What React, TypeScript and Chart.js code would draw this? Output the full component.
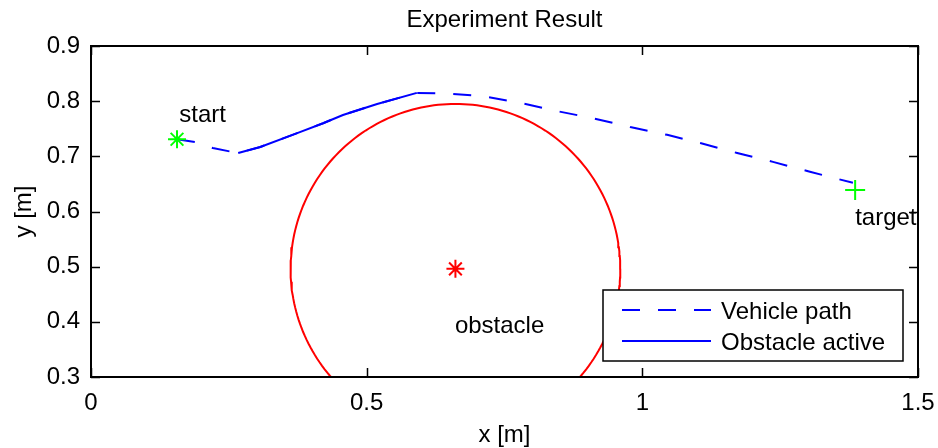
import React, { useEffect, useRef } from "react";
import { Chart, registerables } from "chart.js";

Chart.register(...registerables);

const chartTitle = "Experiment Result";
const xAxisTitle = "x [m]";
const yAxisTitle = "y [m]";
const xTickValues = [0, 0.5, 1, 1.5];
const yTickValues = [0.3, 0.4, 0.5, 0.6, 0.7, 0.8, 0.9];

const vehiclePathX = [0.156, 0.189, 0.221, 0.256, 0.267, 0.307, 0.374, 0.421, 0.457, 0.519, 0.591, 0.646, 0.711, 0.778, 0.845, 0.911, 0.978, 1.045, 1.105, 1.172, 1.237, 1.304, 1.382];
const vehiclePathY = [0.731, 0.726, 0.715, 0.708, 0.706, 0.717, 0.742, 0.76, 0.775, 0.795, 0.815, 0.814, 0.809, 0.797, 0.782, 0.769, 0.753, 0.739, 0.724, 0.706, 0.69, 0.672, 0.652];

const activeX = [0.267, 0.307, 0.374, 0.421, 0.457, 0.519, 0.591];
const activeY = [0.706, 0.717, 0.742, 0.76, 0.775, 0.795, 0.815];

const startPoint = [0.156, 0.731];
const targetPoint = [1.386, 0.639];
const obstacleCenter = [0.661, 0.496];
const obstacleRadius = 0.299;
const circleSteps = 240;

const labelTexts = ["start", "target", "obstacle"];
const labelX = [0.16, 1.386, 0.66];
const labelY = [0.763, 0.576, 0.379];

const legendLabels = ["Vehicle path", "Obstacle active"];

const FONT = "'Liberation Sans', Arial, Helvetica, sans-serif";
const FS = 24;

function circlePoints() {
  const pts: { x: number; y: number }[] = [];
  for (let i = 0; i <= circleSteps; i++) {
    const t = (i / circleSteps) * Math.PI * 2;
    pts.push({ x: obstacleCenter[0] + obstacleRadius * Math.cos(t), y: obstacleCenter[1] + obstacleRadius * Math.sin(t) });
  }
  return pts;
}

const zip = (xs: number[], ys: number[]) => xs.map((x, i) => ({ x, y: ys[i] }));

const overlayPlugin = {
  id: "overlay",
  afterDatasetsDraw(chart: any) {
    const { ctx, chartArea: a, scales } = chart;
    const xs = scales.x;
    const ys = scales.y;
    ctx.save();
    // text labels
    ctx.fillStyle = "#000";
    ctx.font = `${FS}px ${FONT}`;
    ctx.textAlign = "left";
    ctx.textBaseline = "alphabetic";
    labelTexts.forEach((t, i) => {
      ctx.fillText(t, xs.getPixelForValue(labelX[i]), ys.getPixelForValue(labelY[i]));
    });
    // box
    ctx.strokeStyle = "#000";
    ctx.lineWidth = 2;
    ctx.setLineDash([]);
    ctx.strokeRect(a.left, a.top, a.right - a.left, a.bottom - a.top);
    // inward ticks
    ctx.lineWidth = 1.5;
    const tl = 9;
    ctx.beginPath();
    xTickValues.forEach((v) => {
      const px = Math.round(xs.getPixelForValue(v)) + 0.5;
      ctx.moveTo(px, a.bottom);
      ctx.lineTo(px, a.bottom - tl);
      ctx.moveTo(px, a.top);
      ctx.lineTo(px, a.top + tl);
    });
    yTickValues.forEach((v) => {
      const py = Math.round(ys.getPixelForValue(v)) + 0.5;
      ctx.moveTo(a.left, py);
      ctx.lineTo(a.left + tl, py);
      ctx.moveTo(a.right, py);
      ctx.lineTo(a.right - tl, py);
    });
    ctx.stroke();
    // legend
    const bw = 300, bh = 71;
    const bx = a.right - 15 - bw;
    const by = a.bottom - 16 - bh;
    ctx.fillStyle = "#fff";
    ctx.fillRect(bx, by, bw, bh);
    ctx.lineWidth = 1.5;
    ctx.strokeStyle = "#000";
    ctx.strokeRect(bx, by, bw, bh);
    legendLabels.forEach((lab, i) => {
      const ds = chart.data.datasets.find((d: any) => d.label === lab);
      const ly = by + 20 + i * 31;
      ctx.strokeStyle = ds.borderColor;
      ctx.lineWidth = ds.borderWidth;
      ctx.setLineDash(ds.borderDash || []);
      ctx.beginPath();
      ctx.moveTo(bx + 19, ly);
      ctx.lineTo(bx + 108, ly);
      ctx.stroke();
      ctx.setLineDash([]);
      ctx.fillStyle = "#000";
      ctx.font = `${FS}px ${FONT}`;
      ctx.textAlign = "left";
      ctx.textBaseline = "alphabetic";
      ctx.fillText(lab, bx + 118, ly + 8.5);
    });
    ctx.restore();
  },
  afterDraw(chart: any) {
    const { ctx, chartArea: a } = chart;
    ctx.save();
    ctx.fillStyle = "#000";
    ctx.font = `${FS}px ${FONT}`;
    ctx.textAlign = "center";
    ctx.textBaseline = "alphabetic";
    const cx = (a.left + a.right) / 2;
    ctx.fillText(chartTitle, cx, 27);
    ctx.fillText(xAxisTitle, cx, 442);
    ctx.translate(31, (a.top + a.bottom) / 2);
    ctx.rotate(-Math.PI / 2);
    ctx.fillText(yAxisTitle, 0, 0);
    ctx.restore();
  },
};

export default function App() {
  const ref = useRef<HTMLCanvasElement>(null);
  useEffect(() => {
    if (!ref.current) return;
    const tickFont = { family: FONT, size: FS };
    const chart = new Chart(ref.current, {
      type: "scatter",
      data: {
        datasets: [
          {
            label: "start",
            data: [{ x: startPoint[0], y: startPoint[1] }],
            pointStyle: "star",
            pointRadius: 9,
            pointBorderWidth: 2,
            pointBorderColor: "#00ff00",
            pointBackgroundColor: "#00ff00",
            showLine: false,
          },
          {
            label: "target",
            data: [{ x: targetPoint[0], y: targetPoint[1] }],
            pointStyle: "cross",
            pointRadius: 10,
            pointBorderWidth: 2,
            pointBorderColor: "#00ff00",
            pointBackgroundColor: "#00ff00",
            showLine: false,
          },
          {
            label: "obstacle center",
            data: [{ x: obstacleCenter[0], y: obstacleCenter[1] }],
            pointStyle: "star",
            pointRadius: 9,
            pointBorderWidth: 2,
            pointBorderColor: "#ff0000",
            pointBackgroundColor: "#ff0000",
            showLine: false,
          },
          {
            label: "Obstacle active",
            data: zip(activeX, activeY),
            showLine: true,
            borderColor: "#0000ff",
            borderWidth: 2,
            pointRadius: 0,
            tension: 0,
          },
          {
            label: "Vehicle path",
            data: zip(vehiclePathX, vehiclePathY),
            showLine: true,
            borderColor: "#0000ff",
            borderWidth: 2,
            borderDash: [18, 18],
            pointRadius: 0,
            tension: 0,
          },
          {
            label: "obstacle",
            data: circlePoints(),
            showLine: true,
            borderColor: "#ff0000",
            borderWidth: 2,
            pointRadius: 0,
            tension: 0,
          },
        ],
      },
      options: {
        responsive: false,
        animation: false,
        events: [],
        layout: { padding: { top: 46, right: 20, left: 0, bottom: 0 } },
        plugins: { legend: { display: false }, title: { display: false }, tooltip: { enabled: false } },
        scales: {
          x: {
            type: "linear",
            min: 0,
            max: 1.5,
            grid: { display: false, drawTicks: false },
            border: { display: false },
            ticks: { font: tickFont, color: "#000", padding: 12, maxRotation: 0, callback: (v: any) => String(Math.round(Number(v) * 10) / 10) },
            afterBuildTicks: (s: any) => { s.ticks = xTickValues.map((v) => ({ value: v })); },
            afterFit: (s: any) => { s.height = 71; s.paddingLeft = 0; s.paddingRight = 0; },
          },
          y: {
            type: "linear",
            min: 0.3,
            max: 0.9,
            grid: { display: false, drawTicks: false },
            border: { display: false },
            ticks: { font: tickFont, color: "#000", padding: 11, callback: (v: any) => Number(v).toFixed(1) },
            afterBuildTicks: (s: any) => { s.ticks = yTickValues.map((v) => ({ value: v })); },
            afterFit: (s: any) => { s.width = 91; s.paddingTop = 0; s.paddingBottom = 0; },
          },
        },
      },
      plugins: [overlayPlugin],
    });
    return () => chart.destroy();
  }, []);
  return (
    <div style={{ position: "absolute", left: 0, top: 0, width: 938, height: 448, background: "#fff" }}>
      <canvas ref={ref} width={938} height={448} style={{ display: "block" }} />
    </div>
  );
}
